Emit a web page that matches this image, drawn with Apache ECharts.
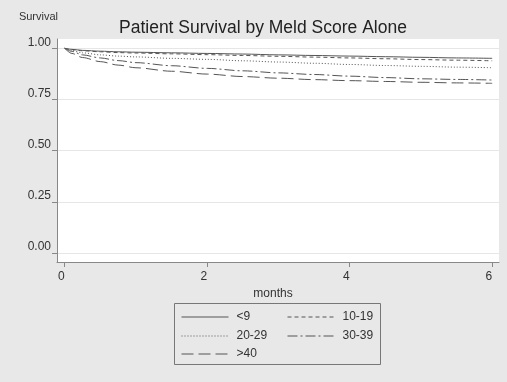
<!DOCTYPE html>
<html>
<head>
<meta charset="utf-8">
<script src="https://cdn.jsdelivr.net/npm/echarts@6/dist/echarts.min.js"></script>
<style>
  html, body { margin: 0; padding: 0; background: #e8e8e8; }
  #chart { width: 507px; height: 382px; }
</style>
</head>
<body>
<div id="chart"></div>
<script>
// months of follow-up
var months = [0, 0.1, 0.25, 0.5, 0.75, 1, 1.5, 2, 2.5, 3, 3.5, 4, 4.5, 5, 5.5, 6];
// survival by meld group
var meldLt9   = [1, 0.995, 0.99, 0.986, 0.983, 0.981, 0.978, 0.975, 0.972, 0.968, 0.965, 0.962, 0.959, 0.956, 0.953, 0.951];
var meld10_19 = [1, 0.994, 0.988, 0.983, 0.979, 0.977, 0.973, 0.969, 0.965, 0.961, 0.957, 0.953, 0.949, 0.945, 0.942, 0.939];
var meld20_29 = [1, 0.99, 0.978, 0.968, 0.962, 0.958, 0.951, 0.946, 0.939, 0.933, 0.927, 0.921, 0.916, 0.912, 0.908, 0.905];
var meld30_39 = [1, 0.985, 0.968, 0.953, 0.94, 0.93, 0.915, 0.902, 0.89, 0.88, 0.872, 0.864, 0.857, 0.851, 0.848, 0.845];
var meldGt40  = [1, 0.975, 0.955, 0.935, 0.918, 0.905, 0.888, 0.874, 0.862, 0.854, 0.847, 0.842, 0.838, 0.834, 0.831, 0.829];

var groupNames = ['<9', '10-19', '20-29', '30-39', '>40'];
var groupData = [meldLt9, meld10_19, meld20_29, meld30_39, meldGt40];
var dashes = ['solid', [4, 3], [1, 2], [10, 3, 2, 3], [12, 5]];

var yTicks = [0, 0.25, 0.5, 0.75, 1];
var xTicks = [0, 2, 4, 6];

var lineColor = '#555';
var font = 'Liberation Sans, Arial, sans-serif';

function pairs(xs, ys) {
    var out = [];
    for (var i = 0; i < xs.length; i++) out.push([xs[i], ys[i]]);
    return out;
}

var series = [];
for (var i = 0; i < groupNames.length; i++) {
    series.push({
        name: groupNames[i],
        type: 'line',
        data: pairs(months, groupData[i]),
        symbol: 'none',
        smooth: 0.3,
        smoothMonotone: 'x',
        lineStyle: { color: lineColor, width: 1, type: dashes[i] },
        itemStyle: { color: lineColor },
        animation: false
    });
}

// legend: 2 columns x 3 rows, one legend per entry so columns line up
var legendPos = [[181, 311], [287, 311], [181, 330], [287, 330], [181, 348]];
var legends = [];
for (var j = 0; j < groupNames.length; j++) {
    legends.push({
        left: legendPos[j][0],
        top: legendPos[j][1],
        padding: 0,
        itemWidth: 47,
        itemHeight: 14,
        selectedMode: false,
        data: [{ name: groupNames[j],
                 itemStyle: { color: 'rgba(0,0,0,0)', borderWidth: 0 },
                 lineStyle: { color: lineColor, width: 1, type: dashes[j] } }],
        textStyle: { fontFamily: font, fontSize: 12, color: '#333', padding: [0, 0, 0, 3] }
    });
}

var myChart = echarts.init(document.getElementById('chart'));
myChart.setOption({
    backgroundColor: '#e8e8e8',
    animation: false,
    title: {
        text: 'Patient Survival by Meld Score Alone',
        left: 119,
        top: 19,
        padding: 0,
        textStyle: { fontFamily: font, fontSize: 17.5, fontWeight: 'normal', color: '#222' }
    },
    legend: legends,
    grid: {
        left: 57, right: 8, top: 39, bottom: 120,
        show: true, backgroundColor: '#fff', borderWidth: 0
    },
    xAxis: {
        type: 'value',
        min: -0.108,
        max: 6.096,
        name: 'months',
        nameLocation: 'middle',
        nameGap: 21,
        nameTextStyle: { fontFamily: font, fontSize: 12, color: '#333', padding: [0, 10, 0, 0] },
        axisLine: { show: true, onZero: false, lineStyle: { color: '#888' } },
        axisTick: { show: true, length: 5, customValues: xTicks, lineStyle: { color: '#888' } },
        axisLabel: { customValues: xTicks, fontFamily: font, fontSize: 12, color: '#333', align: 'right', margin: 9 },
        splitLine: { show: false }
    },
    yAxis: {
        type: 'value',
        min: -0.044,
        max: 1.0455,
        name: 'Survival',
        nameLocation: 'end',
        nameGap: 17,
        nameTextStyle: { fontFamily: font, fontSize: 11, color: '#333', align: 'right', padding: [0, -1, 0, 0] },
        axisLine: { show: true, onZero: false, lineStyle: { color: '#888' } },
        axisTick: { show: true, length: 5, customValues: yTicks, lineStyle: { color: '#888' } },
        axisLabel: {
            customValues: yTicks, fontFamily: font, fontSize: 12, color: '#333',
            margin: 6, verticalAlign: 'bottom',
            formatter: function (v) { return v.toFixed(2); }
        },
        splitLine: { show: true, lineStyle: { color: '#e6e6e6', width: 1 } }
    },
    graphic: [{
        type: 'rect',
        shape: { x: 174.5, y: 303.5, width: 206, height: 61 },
        style: { fill: 'none', stroke: '#777', lineWidth: 1 },
        silent: true
    }],
    series: series
});
</script>
</body>
</html>
